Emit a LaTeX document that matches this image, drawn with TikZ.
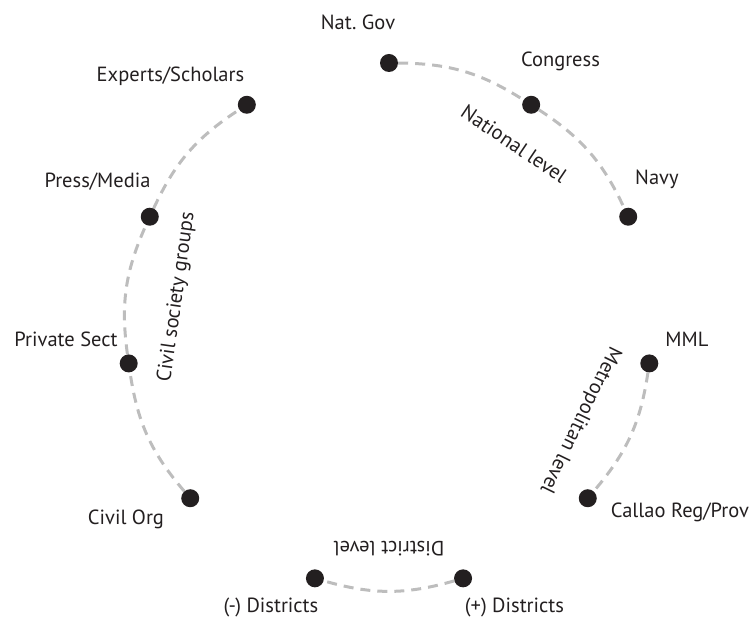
\documentclass[tikz,border=0pt]{standalone}
\usepackage{fontspec}
\setmainfont{PT Sans}
\usetikzlibrary{backgrounds}
\definecolor{ink}{HTML}{231F20}
\definecolor{dashgray}{HTML}{BDBDBD}
\tikzset{
  every node/.style={
    text=ink,
    font=\fontsize{20.5}{24}\selectfont
  },
  dot/.style={
    circle,
    fill=ink,
    inner sep=0pt,
    minimum width=18pt
  },
  lbl/.style={
    anchor=base,
    inner sep=0pt
  },
  lvl/.style={
    inner sep=0pt
  },
  link/.style={
    draw=dashgray,
    line width=3pt,
    dash pattern=on 10pt off 7pt
  }
}

\begin{document}
\begin{tikzpicture}[x=1pt,y=1pt]
    \useasboundingbox (-389,-294) rectangle (363,326);

    \node[dot] (natgov)   at (90:263) {};
    \node[dot] (congress) at (57.27:263) {};
    \node[dot] (navy)     at (24.55:263) {};
    \node[dot] (mml)      at (-8.18:263) {};
    \node[dot] (callao)   at (-40.91:263) {};
    \node[dot] (plusdist) at (-73.64:263) {};
    \node[dot] (minusdist) at (-106.36:263) {};
    \node[dot] (civilorg) at (-139.09:263) {};
    \node[dot] (private)  at (-171.82:263) {};
    \node[dot] (press)    at (155.45:263) {};
    \node[dot] (experts)  at (122.73:263) {};

    \node[lbl] (natgovlbl)    at (-31,296) {Nat.\ Gov};
    \node[lbl] (congresslbl)  at (171.5,259) {Congress};
    \node[lbl] (navylbl)      at (268,141) {Navy};
    \node[lbl] (mmllbl)       at (298,-21) {MML};
    \node[lbl] (callaolbl)    at (291,-192) {Callao Reg/Prov};
    \node[lbl] (plusdistlbl)  at (125.5,-287) {(+) Districts};
    \node[lbl] (minusdistlbl) at (-118,-287) {(-) Districts};
    \node[lbl] (civilorglbl)  at (-263,-199) {Civil Org};
    \node[lbl] (privatelbl)   at (-323,-21) {Private Sect};
    \node[lbl] (presslbl)     at (-291.5,138) {Press/Media};
    \node[lbl] (expertslbl)   at (-218.5,244) {Experts/Scholars};

    \node[lvl, rotate=-34]  (natlevel)   at (55.5:221) {National level};
    \node[lvl, rotate=-116] (metrolevel) at (-26.2:213) {Metropolitan level};
    \node[lvl, rotate=180]  (distlevel)  at (-90:223) {District level};
    \node[lvl, rotate=82]   (civillevel) at (172.2:214) {Civil society groups};

    \begin{scope}[on background layer]
      \draw[link] (natgov) to[bend left=16] (congress);
      \draw[link] (congress) to[bend left=16] (navy);
      \draw[link] (mml) to[bend left=16] (callao);
      \draw[link] (plusdist) to[bend left=16] (minusdist);
      \draw[link] (civilorg) to[bend left=16] (private);
      \draw[link] (private) to[bend left=16] (press);
      \draw[link] (press) to[bend left=16] (experts);
    \end{scope}
\end{tikzpicture}
\end{document}
